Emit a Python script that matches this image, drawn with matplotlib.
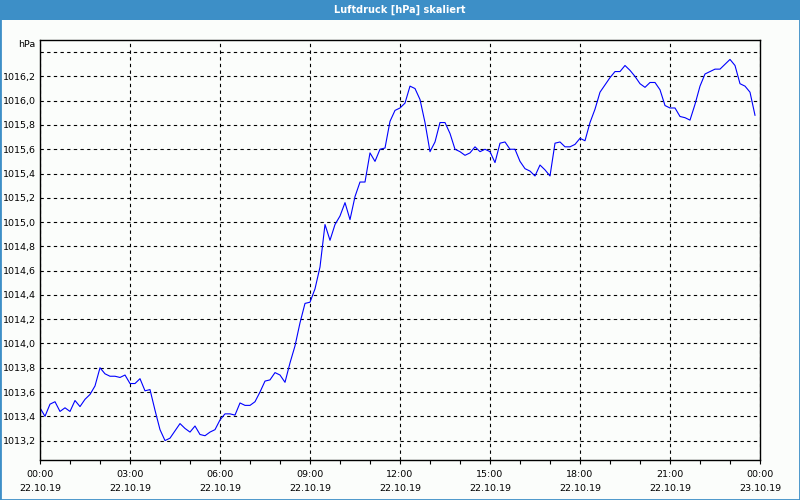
#Libraries
import numpy as np
import matplotlib.pyplot as plt
from matplotlib.patches import Rectangle
from matplotlib.ticker import FixedLocator, FuncFormatter

# Pressure readings, one every 10 minutes from 22.10.19 00:00 to 23:50
pressure = [
    1013.47, 1013.40, 1013.50, 1013.52, 1013.44, 1013.47, 1013.44, 1013.53, 1013.48, 1013.54,
    1013.58, 1013.65, 1013.80, 1013.75, 1013.73, 1013.73, 1013.72, 1013.74, 1013.67, 1013.67,
    1013.71, 1013.61, 1013.62, 1013.45, 1013.29, 1013.20, 1013.22, 1013.28, 1013.34, 1013.30,
    1013.27, 1013.32, 1013.25, 1013.24, 1013.27, 1013.29, 1013.37, 1013.42, 1013.42, 1013.41,
    1013.51, 1013.49, 1013.49, 1013.52, 1013.60, 1013.69, 1013.70, 1013.76, 1013.74, 1013.68,
    1013.84, 1013.98, 1014.17, 1014.33, 1014.34, 1014.45, 1014.63, 1014.98, 1014.85, 1014.98,
    1015.05, 1015.16, 1015.02, 1015.21, 1015.33, 1015.33, 1015.57, 1015.50, 1015.60, 1015.61,
    1015.83, 1015.92, 1015.94, 1015.98, 1016.12, 1016.10, 1016.01, 1015.82, 1015.58, 1015.66,
    1015.82, 1015.82, 1015.73, 1015.60, 1015.58, 1015.55, 1015.57, 1015.62, 1015.58, 1015.60,
    1015.58, 1015.49, 1015.65, 1015.66, 1015.60, 1015.60, 1015.50, 1015.44, 1015.42, 1015.38,
    1015.47, 1015.43, 1015.38, 1015.65, 1015.66, 1015.62, 1015.62, 1015.64, 1015.69, 1015.67,
    1015.82, 1015.93, 1016.07, 1016.13, 1016.19, 1016.24, 1016.24, 1016.29, 1016.25, 1016.20,
    1016.14, 1016.11, 1016.15, 1016.15, 1016.09, 1015.96, 1015.94, 1015.94, 1015.87, 1015.86,
    1015.84, 1015.97, 1016.12, 1016.22, 1016.24, 1016.26, 1016.26, 1016.30, 1016.34, 1016.29,
    1016.14, 1016.12, 1016.07, 1015.88,
]

# Time axis in hours (10 minute steps)
hours = np.arange(len(pressure)) / 6.0

# Axis ticks and labels
x_ticks = [0, 3, 6, 9, 12, 15, 18, 21, 24]
x_labels = ['00:00\n22.10.19', '03:00\n22.10.19', '06:00\n22.10.19', '09:00\n22.10.19',
            '12:00\n22.10.19', '15:00\n22.10.19', '18:00\n22.10.19', '21:00\n22.10.19',
            '00:00\n23.10.19']
y_ticks = [1013.2, 1013.4, 1013.6, 1013.8, 1014.0, 1014.2, 1014.4, 1014.6, 1014.8,
           1015.0, 1015.2, 1015.4, 1015.6, 1015.8, 1016.0, 1016.2, 1016.4]

bg = '#fbfdfb'
bar_blue = '#3d8fc7'

fig = plt.figure(figsize=(8, 5), dpi=100, facecolor=bg)
ax = fig.add_axes([0.05, 0.08, 0.90, 0.84], facecolor=bg)

# Pressure line
ax.plot(hours, pressure, color='#0000ff', linewidth=0.8)

ax.set_xlim(0, 24)
ax.set_ylim(1013.04, 1016.50)

# Ticks
ax.set_xticks(x_ticks)
ax.set_xticklabels(x_labels, fontsize=6.8, linespacing=1.75)
ax.xaxis.set_minor_locator(FixedLocator(np.arange(0, 25, 1)))
ax.tick_params(axis='x', which='both', direction='out', length=3, width=0.8, pad=4)

ax.set_yticks(y_ticks)
ax.yaxis.set_major_formatter(FuncFormatter(
    lambda v, p: '' if v > 1016.3 else f'{v:.1f}'.replace('.', ',')))
ax.tick_params(axis='y', length=0, pad=3, labelsize=6.8)

# Dashed grid
ax.grid(True, which='major', color='black', linestyle=(0, (3, 3)), linewidth=0.8)

for s in ax.spines.values():
    s.set_color('black')
    s.set_linewidth(1.0)

# Unit label at the top of the y axis
ax.text(-0.006, 1.0, 'hPa', transform=ax.transAxes, ha='right', va='top', fontsize=6.8)

# Title bar and window border
fig.patches.append(Rectangle((0, 0.96), 1, 0.04, transform=fig.transFigure,
                             facecolor=bar_blue, edgecolor='none', zorder=0))
fig.patches.append(Rectangle((0, 0), 1, 1, transform=fig.transFigure,
                             facecolor='none', edgecolor=bar_blue, linewidth=2, zorder=1))
fig.text(0.5, 0.98, 'Luftdruck [hPa] skaliert', ha='center', va='center',
         color='white', fontsize=7, fontweight='bold')

fig.savefig('out.png', dpi=100, facecolor=bg)
